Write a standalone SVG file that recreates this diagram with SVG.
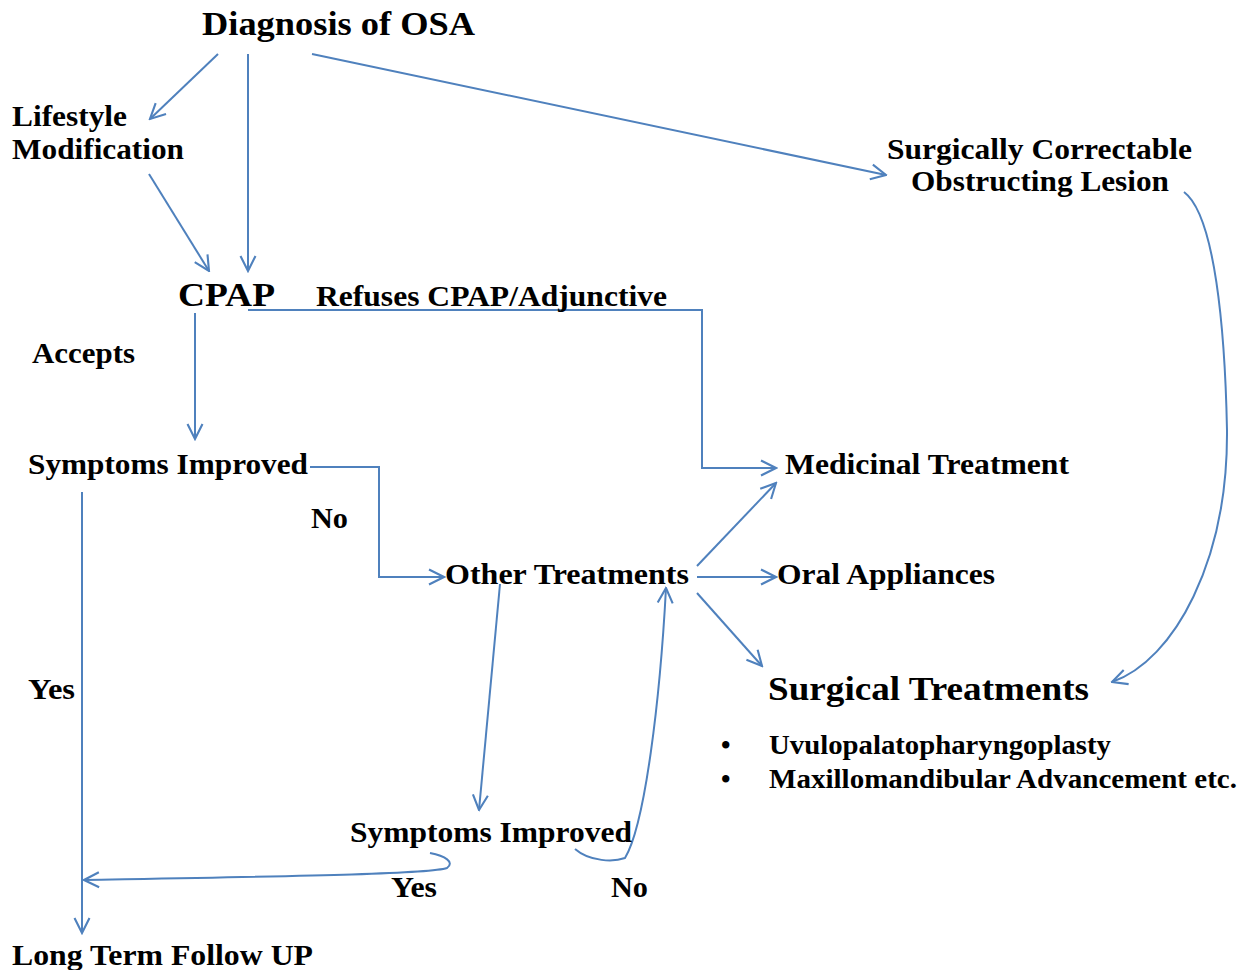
<svg xmlns="http://www.w3.org/2000/svg" width="1245" height="970" viewBox="0 0 1245 970">
<style>
text{font-family:"Liberation Serif","Times New Roman",serif;font-weight:bold;fill:#000;font-size:29px}
.big{font-size:34px}
.sm{font-size:27px}
.c{fill:none;stroke:#4f81bd;stroke-width:2}
</style>
<defs>
<marker id="a" viewBox="0 0 12 12" refX="11" refY="6" markerWidth="18" markerHeight="18" markerUnits="userSpaceOnUse" orient="auto">
<path d="M1,1 L11,6 L1,11" fill="none" stroke="#4f81bd" stroke-width="1.4"/>
</marker>
</defs>
<rect width="1245" height="970" fill="#fff"/>
<g id="connectors">
<path class="c" d="M218,54 L150,119" marker-end="url(#a)"/>
<path class="c" d="M248,54 L248,271" marker-end="url(#a)"/>
<path class="c" d="M312,54 L886,175" marker-end="url(#a)"/>
<path class="c" d="M149,174 L209,271" marker-end="url(#a)"/>
<path class="c" d="M248,310 L702,310 L702,468 L776,468" marker-end="url(#a)"/>
<path class="c" d="M195,313 L195,439" marker-end="url(#a)"/>
<path class="c" d="M310,467 L379,467 L379,577 L444,577" marker-end="url(#a)"/>
<path class="c" d="M82,492 L82,933" marker-end="url(#a)"/>
<path class="c" d="M697,566 L776,483" marker-end="url(#a)"/>
<path class="c" d="M697,577 L776,577" marker-end="url(#a)"/>
<path class="c" d="M697,593 L762,666" marker-end="url(#a)"/>
<path class="c" d="M500,584 L479,810" marker-end="url(#a)"/>
<path class="c" d="M575,849 C590,862 614,862 625,858 C645,825 660,700 666,588" marker-end="url(#a)"/>
<path class="c" d="M430,853 C445,856 455,862 447,868 C430,874 300,876 84,880" marker-end="url(#a)"/>
<path class="c" d="M1184,192 C1215,215 1225,330 1227,430 C1228,560 1175,660 1112,682" marker-end="url(#a)"/>
</g>
<g id="diagnosis"><text class="big" x="202" y="35" textLength="273" lengthAdjust="spacingAndGlyphs">Diagnosis of OSA</text></g>
<g id="lifestyle"><text x="12" y="126" textLength="115" lengthAdjust="spacingAndGlyphs">Lifestyle</text><text x="12" y="159" textLength="172" lengthAdjust="spacingAndGlyphs">Modification</text></g>
<g id="surgically"><text x="887" y="159" textLength="305" lengthAdjust="spacingAndGlyphs">Surgically Correctable</text><text x="911" y="191" textLength="258" lengthAdjust="spacingAndGlyphs">Obstructing Lesion</text></g>
<g id="cpap"><text class="big" x="178" y="306" textLength="97" lengthAdjust="spacingAndGlyphs">CPAP</text></g>
<g id="refuses"><text x="316" y="306" textLength="351" lengthAdjust="spacingAndGlyphs">Refuses CPAP/Adjunctive</text></g>
<g id="accepts"><text x="32" y="363" textLength="103" lengthAdjust="spacingAndGlyphs">Accepts</text></g>
<g id="symptoms1"><text x="28" y="474" textLength="280" lengthAdjust="spacingAndGlyphs">Symptoms Improved</text></g>
<g id="no1"><text x="311" y="528" textLength="37" lengthAdjust="spacingAndGlyphs">No</text></g>
<g id="medicinal"><text x="785" y="474" textLength="284" lengthAdjust="spacingAndGlyphs">Medicinal Treatment</text></g>
<g id="other"><text x="445" y="584" textLength="244" lengthAdjust="spacingAndGlyphs">Other Treatments</text></g>
<g id="oral"><text x="777" y="584" textLength="218" lengthAdjust="spacingAndGlyphs">Oral Appliances</text></g>
<g id="surgical"><text class="big" x="768" y="700" textLength="321" lengthAdjust="spacingAndGlyphs">Surgical Treatments</text>
<text class="sm" x="721" y="754">•</text><text class="sm" x="769" y="754" textLength="342" lengthAdjust="spacingAndGlyphs">Uvulopalatopharyngoplasty</text>
<text class="sm" x="721" y="788">•</text><text class="sm" x="769" y="788" textLength="468" lengthAdjust="spacingAndGlyphs">Maxillomandibular Advancement etc.</text></g>
<g id="yes1"><text x="28" y="699" textLength="47" lengthAdjust="spacingAndGlyphs">Yes</text></g>
<g id="symptoms2"><text x="350" y="842" textLength="282" lengthAdjust="spacingAndGlyphs">Symptoms Improved</text></g>
<g id="yes2"><text x="391" y="897" textLength="46" lengthAdjust="spacingAndGlyphs">Yes</text></g>
<g id="no2"><text x="611" y="897" textLength="37" lengthAdjust="spacingAndGlyphs">No</text></g>
<g id="longterm"><text x="12" y="965" textLength="301" lengthAdjust="spacingAndGlyphs">Long Term Follow UP</text></g>
</svg>
